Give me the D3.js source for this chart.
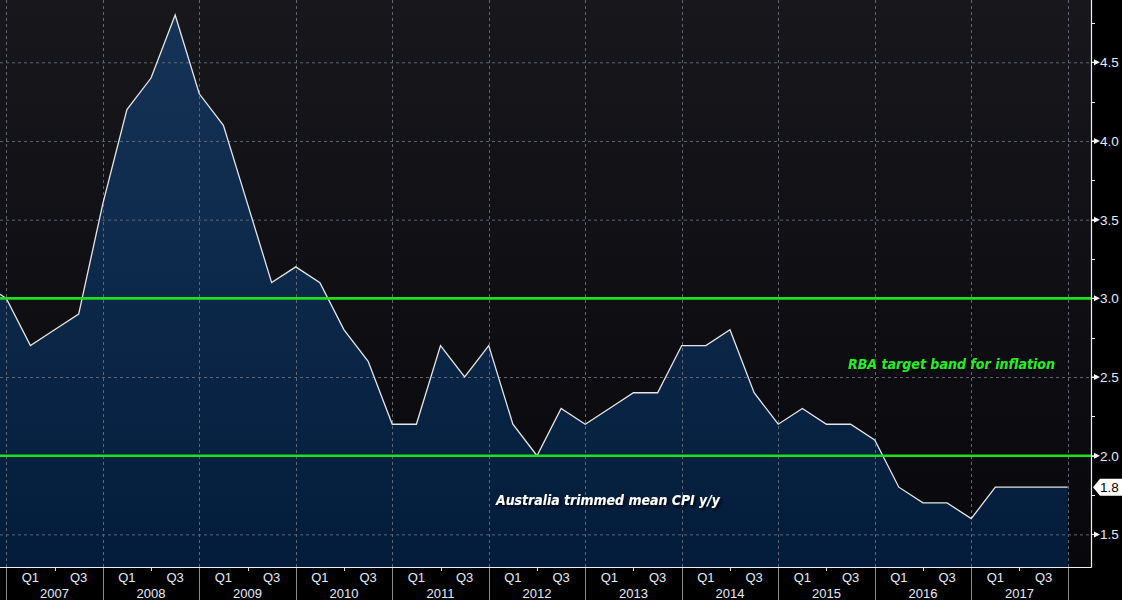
<!DOCTYPE html>
<html>
<head>
<meta charset="utf-8">
<script src="https://cdn.jsdelivr.net/npm/d3@7"></script>
<style>
  html, body { margin: 0; padding: 0; background: #000; }
  svg { display: block; }
  .lbl { font-family: "Liberation Sans", Arial, sans-serif; fill: #e4ecf8; }
</style>
</head>
<body>
<svg id="chart" width="1122" height="600"></svg>
<script>
// quarterly trimmed mean CPI y/y, quarter-end points
var quarters = ["2006Q3","2006Q4",
  "2007Q1","2007Q2","2007Q3","2007Q4",
  "2008Q1","2008Q2","2008Q3","2008Q4",
  "2009Q1","2009Q2","2009Q3","2009Q4",
  "2010Q1","2010Q2","2010Q3","2010Q4",
  "2011Q1","2011Q2","2011Q3","2011Q4",
  "2012Q1","2012Q2","2012Q3","2012Q4",
  "2013Q1","2013Q2","2013Q3","2013Q4",
  "2014Q1","2014Q2","2014Q3","2014Q4",
  "2015Q1","2015Q2","2015Q3","2015Q4",
  "2016Q1","2016Q2","2016Q3","2016Q4",
  "2017Q1","2017Q2","2017Q3","2017Q4"];
var cpi = [3.1, 3.0,
  2.7, 2.8, 2.9, 3.6,
  4.2, 4.4, 4.8, 4.3,
  4.1, 3.6, 3.1, 3.2,
  3.1, 2.8, 2.6, 2.2,
  2.2, 2.7, 2.5, 2.7,
  2.2, 2.0, 2.3, 2.2,
  2.3, 2.4, 2.4, 2.7,
  2.7, 2.8, 2.4, 2.2,
  2.3, 2.2, 2.2, 2.1,
  1.8, 1.7, 1.7, 1.6,
  1.8, 1.8, 1.8, 1.8];
var years = [2007, 2008, 2009, 2010, 2011, 2012, 2013, 2014, 2015, 2016, 2017];
var quarterLabels = [["Q1", 0.25], ["Q3", 0.75]];
var yMajor = [1.5, 2.0, 2.5, 3.0, 3.5, 4.0, 4.5];
var band = [2.0, 3.0];
var lastValue = 1.8;
var bandText = "RBA target band for inflation";
var seriesText = "Australia trimmed mean CPI y/y";

var svg = d3.select("#chart");
var W = 1122, H = 600;
var plotR = 1091, plotB = 567;

// quarter-end as decimal year
function qTime(s) { return +s.slice(0, 4) + (+s.slice(5)) / 4; }
var data = quarters.map(function(q, i) { return { t: qTime(q), v: cpi[i] }; });

var x = d3.scaleLinear().domain([2007, 2018]).range([6.3, 1067.7]);
var y = d3.scaleLinear().domain([1.2927, 4.8959]).range([plotB, 0]);

var defs = svg.append("defs");
var bg = defs.append("linearGradient").attr("id", "bg")
    .attr("x1", 0).attr("y1", 0).attr("x2", 0).attr("y2", 1);
bg.append("stop").attr("offset", "0%").attr("stop-color", "#17171c");
bg.append("stop").attr("offset", "100%").attr("stop-color", "#08080c");

var ag = defs.append("linearGradient").attr("id", "areaFill")
    .attr("gradientUnits", "userSpaceOnUse")
    .attr("x1", 0).attr("y1", 0).attr("x2", 0).attr("y2", plotB);
ag.append("stop").attr("offset", "0%").attr("stop-color", "#163458");
ag.append("stop").attr("offset", "100%").attr("stop-color", "#031c3b");

defs.append("clipPath").attr("id", "clip")
  .append("rect").attr("x", 0).attr("y", 0).attr("width", plotR).attr("height", plotB);

var shadow = defs.append("filter").attr("id", "shadow")
    .attr("x", "-10%").attr("y", "-30%").attr("width", "120%").attr("height", "160%");
shadow.append("feDropShadow").attr("dx", 2).attr("dy", 2).attr("stdDeviation", 1.5)
    .attr("flood-color", "#000").attr("flood-opacity", 0.8);

svg.append("rect").attr("width", W).attr("height", H).attr("fill", "#000");
svg.append("rect").attr("width", plotR).attr("height", plotB).attr("fill", "url(#bg)");

var plot = svg.append("g").attr("clip-path", "url(#clip)");

// area + line
var area = d3.area().x(function(d) { return x(d.t); }).y0(plotB).y1(function(d) { return y(d.v); });
var line = d3.line().x(function(d) { return x(d.t); }).y(function(d) { return y(d.v); });

plot.append("path").datum(data).attr("d", area).attr("fill", "url(#areaFill)");

// dashed grid
plot.selectAll(".hg").data(yMajor.filter(function(v) { return band.indexOf(v) < 0; }))
  .enter().append("line")
    .attr("x1", 0).attr("x2", plotR)
    .attr("y1", function(d) { return y(d) + 0.5; }).attr("y2", function(d) { return y(d) + 0.5; })
    .attr("stroke", "#5f6572").attr("stroke-dasharray", "3,3");
plot.selectAll(".vg").data(years.concat([2018]))
  .enter().append("line")
    .attr("x1", function(d) { return Math.round(x(d)) + 0.5; })
    .attr("x2", function(d) { return Math.round(x(d)) + 0.5; })
    .attr("y1", 0).attr("y2", plotB)
    .attr("stroke", "#5f6572").attr("stroke-dasharray", "3,3");

plot.append("path").datum(data).attr("d", line)
    .attr("fill", "none").attr("stroke", "#e6e6e6").attr("stroke-width", 1.3);

// target band lines
plot.selectAll(".band").data(band).enter().append("line")
    .attr("x1", 0).attr("x2", plotR)
    .attr("y1", function(d) { return y(d); }).attr("y2", function(d) { return y(d); })
    .attr("stroke", "#1fe01f").attr("stroke-width", 2.6);

// annotations
svg.append("text").text(bandText)
    .attr("x", 848).attr("y", 369)
    .attr("textLength", 207).attr("lengthAdjust", "spacingAndGlyphs")
    .attr("filter", "url(#shadow)")
    .style("font-family", "'DejaVu Sans', sans-serif").style("font-style", "italic")
    .style("font-weight", "bold").style("font-size", "14px").attr("fill", "#22f022");
svg.append("text").text(seriesText)
    .attr("x", 496).attr("y", 505)
    .attr("textLength", 224).attr("lengthAdjust", "spacingAndGlyphs")
    .attr("filter", "url(#shadow)")
    .style("font-family", "'DejaVu Sans', sans-serif").style("font-style", "italic")
    .style("font-weight", "bold").style("font-size", "14px").attr("fill", "#ffffff");

// axes lines
svg.append("line").attr("x1", 0).attr("x2", plotR + 0.5).attr("y1", plotB + 0.5).attr("y2", plotB + 0.5)
    .attr("stroke", "#f0f0f0").attr("stroke-width", 1.2);
svg.append("line").attr("x1", plotR + 0.5).attr("x2", plotR + 0.5).attr("y1", 0).attr("y2", plotB + 0.5)
    .attr("stroke", "#f0f0f0").attr("stroke-width", 1.2);

// right axis: minor ticks, triangles, labels
var yMinor = d3.range(1.5, 4.9, 0.25);
svg.selectAll(".ymin").data(yMinor).enter().append("line")
    .attr("x1", plotR).attr("x2", plotR + 4)
    .attr("y1", function(d) { return Math.round(y(d)) + 0.5; })
    .attr("y2", function(d) { return Math.round(y(d)) + 0.5; })
    .attr("stroke", "#f0f0f0");
svg.selectAll(".ytri").data(yMajor).enter().append("path")
    .attr("d", function(d) {
      var yy = y(d);
      return "M" + plotR + "," + (yy - 0.5) + "H" + (plotR + 3) + "L" + (plotR + 3) + "," + (yy - 3) +
        "L" + (plotR + 9) + "," + yy + "L" + (plotR + 3) + "," + (yy + 3) + "L" + (plotR + 3) + "," + (yy + 0.5) + "H" + plotR + "Z";
    })
    .attr("fill", "#f4f4f4");
svg.selectAll(".ylab").data(yMajor).enter().append("text")
    .attr("class", "lbl")
    .attr("x", 1100).attr("y", function(d) { return y(d) + 5; })
    .style("font-size", "13.5px")
    .text(function(d) { return d3.format(".1f")(d); });

// last value flag
var ly = y(lastValue);
svg.append("path")
    .attr("d", "M1093," + ly + "L1100," + (ly - 8.5) + "H1122V" + (ly + 8.5) + "H1100Z")
    .attr("fill", "#ffffff");
svg.append("text").attr("x", 1100).attr("y", ly + 5)
    .style("font-family", "'Liberation Sans', Arial, sans-serif").style("font-size", "13.5px")
    .attr("fill", "#000").text(d3.format(".1f")(lastValue));

// bottom axis: year separators, mid-year ticks, labels
svg.selectAll(".ysep").data(years.concat([2018])).enter().append("line")
    .attr("x1", function(d) { return Math.round(x(d)) + 0.5; })
    .attr("x2", function(d) { return Math.round(x(d)) + 0.5; })
    .attr("y1", plotB + 1).attr("y2", H)
    .attr("stroke", "#8a8a8a");
svg.selectAll(".mtick").data(years).enter().append("line")
    .attr("x1", function(d) { return Math.round(x(d + 0.5)) + 0.5; })
    .attr("x2", function(d) { return Math.round(x(d + 0.5)) + 0.5; })
    .attr("y1", plotB + 1).attr("y2", plotB + 4)
    .attr("stroke", "#e0e0e0");

var qs = [];
years.forEach(function(yr) { quarterLabels.forEach(function(q) { qs.push({ t: yr + q[1], s: q[0] }); }); });
svg.selectAll(".qlab").data(qs).enter().append("text")
    .attr("class", "lbl").attr("text-anchor", "middle")
    .attr("x", function(d) { return x(d.t); }).attr("y", 582)
    .style("font-size", "13px")
    .text(function(d) { return d.s; });
svg.selectAll(".yrlab").data(years).enter().append("text")
    .attr("class", "lbl").attr("text-anchor", "middle")
    .attr("x", function(d) { return x(d + 0.5); }).attr("y", 598)
    .style("font-size", "13px")
    .text(function(d) { return d; });
</script>
</body>
</html>
